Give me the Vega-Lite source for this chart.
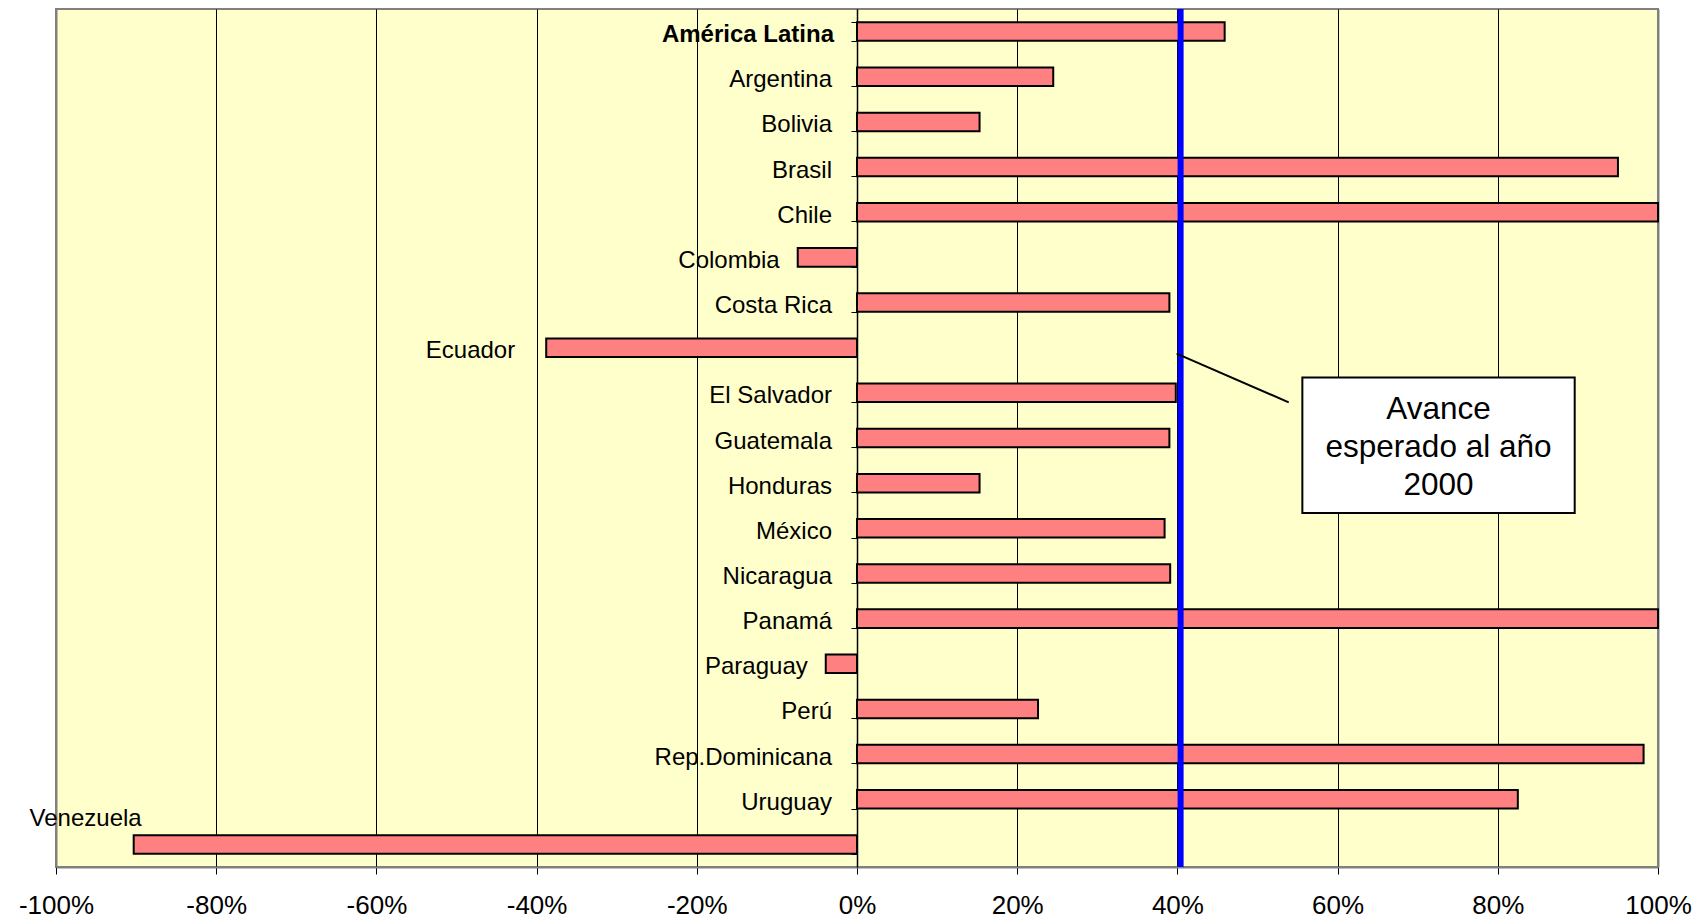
{
  "$schema": "https://vega.github.io/schema/vega-lite/v6.json",
  "width": 1602,
  "height": 858,
  "autosize": {"type": "none"},
  "padding": {"left": 56, "top": 9, "right": 41, "bottom": 52},
  "background": "#FFFFFF",
  "config": {
    "view": {"fill": "#FFFFCC", "stroke": "#808080", "strokeWidth": 2},
    "text": {"font": "Liberation Sans", "color": "#000000"}
  },
  "datasets": {
    "paises": [
      {"pais": "América Latina", "v": 0.459},
      {"pais": "Argentina", "v": 0.245},
      {"pais": "Bolivia", "v": 0.153},
      {"pais": "Brasil", "v": 0.950},
      {"pais": "Chile", "v": 1.0},
      {"pais": "Colombia", "v": -0.074},
      {"pais": "Costa Rica", "v": 0.390},
      {"pais": "Ecuador", "v": -0.388},
      {"pais": "El Salvador", "v": 0.398},
      {"pais": "Guatemala", "v": 0.390},
      {"pais": "Honduras", "v": 0.153},
      {"pais": "México", "v": 0.384},
      {"pais": "Nicaragua", "v": 0.391},
      {"pais": "Panamá", "v": 1.0},
      {"pais": "Paraguay", "v": -0.039},
      {"pais": "Perú", "v": 0.226},
      {"pais": "Rep.Dominicana", "v": 0.982},
      {"pais": "Uruguay", "v": 0.825},
      {"pais": "Venezuela", "v": -0.903}
    ],
    "meta": [{"avance": 0.404}],
    "caja": [{"x1": 0.556, "x2": 0.896, "r1": 8.16, "r2": 11.16, "xc": 0.726, "rc": 8.88}],
    "guia": [{"x1": 0.399, "r1": 7.63, "x2": 0.539, "r2": 8.71}]
  },
  "layer": [
    {
      "data": {"name": "paises"},
      "layer": [
        {
          "mark": {"type": "bar", "fill": "#FF8080", "stroke": "#000000", "strokeWidth": 2},
          "encoding": {
            "y": {
              "field": "pais", "type": "nominal", "sort": null,
              "scale": {"paddingInner": 0.59, "paddingOuter": 0.295},
              "axis": {
                "title": null, "labels": false, "ticks": true, "tickBand": "extent",
                "tickSize": 6, "tickColor": "#000000", "tickWidth": 1,
                "domainColor": "#000000", "domainWidth": 1.5, "offset": -801, "grid": false
              }
            },
            "x": {
              "field": "v", "type": "quantitative",
              "scale": {"domain": [-1, 1], "nice": false, "zero": false},
              "axis": {
                "title": null, "format": ".0%",
                "labelExpr": "replace(datum.label, '\u2212', '-')",
                "values": [-1, -0.8, -0.6, -0.4, -0.2, 0, 0.2, 0.4, 0.6, 0.8, 1],
                "grid": true,
                "gridColor": {"condition": {"test": "abs(datum.value) >= 0.999", "value": "#808080"}, "value": "#000000"},
                "gridWidth": {"condition": {"test": "abs(datum.value) >= 0.999", "value": 2}, "value": 1},
                "gridOpacity": 1,
                "domainColor": "#808080", "domainWidth": 2,
                "tickColor": "#000000", "tickSize": 7, "tickWidth": 1,
                "labelFont": "Liberation Sans", "labelFontSize": 26, "labelColor": "#000000",
                "labelPadding": 18, "labelFlush": false
              }
            }
          }
        },
        {
          "transform": [{"filter": "datum.v >= 0 && datum.pais !== 'América Latina'"}],
          "mark": {"type": "text", "align": "right", "baseline": "middle", "dx": -25, "dy": 3.5, "fontSize": 24},
          "encoding": {
            "y": {"field": "pais", "type": "nominal", "sort": null},
            "x": {"datum": 0},
            "text": {"field": "pais"}
          }
        },
        {
          "transform": [{"filter": "datum.pais === 'América Latina'"}],
          "mark": {"type": "text", "align": "right", "baseline": "middle", "dx": -23, "dy": 3, "fontSize": 24, "fontWeight": "bold"},
          "encoding": {
            "y": {"field": "pais", "type": "nominal", "sort": null},
            "x": {"datum": 0},
            "text": {"field": "pais"}
          }
        },
        {
          "transform": [{"filter": "datum.pais === 'Colombia' || datum.pais === 'Paraguay'"}],
          "mark": {"type": "text", "align": "right", "baseline": "middle", "dx": -18, "dy": 3.5, "fontSize": 24},
          "encoding": {
            "y": {"field": "pais", "type": "nominal", "sort": null},
            "x": {"field": "v", "type": "quantitative"},
            "text": {"field": "pais"}
          }
        },
        {
          "transform": [{"filter": "datum.pais === 'Ecuador'"}],
          "mark": {"type": "text", "align": "right", "baseline": "middle", "dx": -31, "dy": 3.5, "fontSize": 24},
          "encoding": {
            "y": {"field": "pais", "type": "nominal", "sort": null},
            "x": {"field": "v", "type": "quantitative"},
            "text": {"field": "pais"}
          }
        },
        {
          "transform": [{"filter": "datum.pais === 'Venezuela'"}],
          "mark": {"type": "text", "align": "right", "baseline": "middle", "dx": 8, "dy": -25, "fontSize": 24},
          "encoding": {
            "y": {"field": "pais", "type": "nominal", "sort": null},
            "x": {"field": "v", "type": "quantitative"},
            "text": {"field": "pais"}
          }
        }
      ]
    },
    {
      "data": {"name": "meta"},
      "mark": {"type": "rule", "color": "#0000FF", "strokeWidth": 6},
      "encoding": {"x": {"field": "avance", "type": "quantitative"}}
    },
    {
      "data": {"name": "guia"},
      "mark": {"type": "rule", "color": "#000000", "strokeWidth": 2},
      "encoding": {
        "x": {"field": "x1", "type": "quantitative"},
        "x2": {"field": "x2"},
        "y": {"field": "r1", "type": "quantitative", "scale": {"domain": [0, 19], "reverse": true, "nice": false, "zero": false}, "axis": null},
        "y2": {"field": "r2"}
      }
    },
    {
      "data": {"name": "caja"},
      "layer": [
        {
          "mark": {"type": "rect", "fill": "#FFFFFF", "stroke": "#000000", "strokeWidth": 2},
          "encoding": {
            "x": {"field": "x1", "type": "quantitative"},
            "x2": {"field": "x2"},
            "y": {"field": "r1", "type": "quantitative", "scale": {"domain": [0, 19], "reverse": true, "nice": false, "zero": false}, "axis": null},
            "y2": {"field": "r2"}
          }
        },
        {
          "mark": {"type": "text", "align": "center", "baseline": "middle", "fontSize": 31.5, "lineHeight": 38, "text": ["Avance", "esperado al año", "2000"]},
          "encoding": {
            "x": {"field": "xc", "type": "quantitative"},
            "y": {"field": "rc", "type": "quantitative", "scale": {"domain": [0, 19], "reverse": true, "nice": false, "zero": false}, "axis": null}
          }
        }
      ]
    }
  ],
  "resolve": {"scale": {"y": "independent"}}
}
